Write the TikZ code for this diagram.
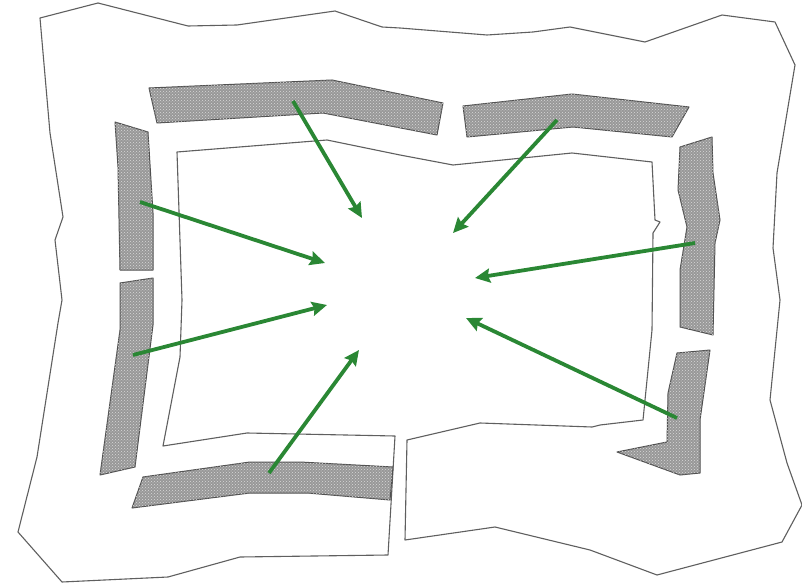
\documentclass[tikz,border=0pt]{standalone}
\usetikzlibrary{arrows.meta,patterns}
\definecolor{frameline}{RGB}{95,95,95}
\definecolor{barfill}{RGB}{152,152,152}
\definecolor{barline}{RGB}{80,80,80}
\definecolor{arrowgreen}{RGB}{42,135,52}
\tikzset{
  frame/.style={draw=frameline, line width=1.1pt, fill=white, line join=round},
  bar/.style={draw=barline, line width=1pt, fill=barfill, line join=round,
    postaction={pattern=crosshatch dots, pattern color=gray!30}},
  flow/.style={draw=arrowgreen, line width=3.8pt,
    -{Stealth[length=15pt,width=14pt,inset=2pt]}}
}
\begin{document}
\begin{tikzpicture}[x=1pt,y=-1pt]
\useasboundingbox (0,0) rectangle (802,585);
\fill[white] (0,0) rectangle (802,585);
% white frame (outer outline with inner opening and bottom slit)
\draw[frame]
  (405,540) -- (495,527) -- (590,550) -- (657,575) -- (782,542) -- (802,505)
  -- (787,463) -- (770,400) -- (780,300) -- (773,248) -- (777,173) -- (795,65)
  -- (775,22) -- (722,15) -- (645,42) -- (570,27) -- (533,32) -- (487,35)
  -- (400,28) -- (382,27) -- (335,11) -- (237,25) -- (188,26) -- (98,3)
  -- (40,18) -- (50,133) -- (63,217) -- (55,240) -- (62,300) -- (58,323)
  -- (37,457) -- (18,532) -- (62,582) -- (168,577) -- (240,557) -- (388,555)
  -- (395,436) -- (247,433) -- (163,446) -- (180,357) -- (182,300)
  -- (177,152) -- (327,140) -- (400,155) -- (453,165) -- (572,153)
  -- (652,162) -- (655,220) -- (660,222) -- (653,233) -- (652,330)
  -- (643,420) -- (600,425) -- (592,427) -- (480,423) -- (407,440) -- cycle;
% gray bars
\draw[bar] (149,88) -- (332,80) -- (443,103) -- (437,135) -- (323,113) -- (157,123) -- cycle;
\draw[bar] (463,106) -- (572,94) -- (689,107) -- (672,137) -- (573,127) -- (467,137) -- cycle;
\draw[bar] (680,147) -- (712,137) -- (713,173) -- (720,220) -- (715,243) -- (713,335)
  -- (680,327) -- (680,270) -- (687,227) -- (678,190) -- cycle;
\draw[bar] (677,353) -- (710,350) -- (700,420) -- (700,473) -- (680,475) -- (617,452)
  -- (667,442) -- (668,393) -- cycle;
\draw[bar] (115,122) -- (148,132) -- (153,213) -- (153,270) -- (120,270) -- (118,167) -- cycle;
\draw[bar] (120,283) -- (153,278) -- (153,325) -- (135,467) -- (100,475) -- (120,330) -- cycle;
\draw[bar] (143,477) -- (250,462) -- (300,462) -- (393,467) -- (390,500) -- (307,493)
  -- (250,493) -- (132,508) -- cycle;
% arrow end points
\coordinate (s1) at (293,101); \coordinate (t1) at (362,218);
\coordinate (s2) at (140,202); \coordinate (t2) at (325,263);
\coordinate (s3) at (557,120); \coordinate (t3) at (453,233);
\coordinate (s4) at (695,243); \coordinate (t4) at (475,278);
\coordinate (s5) at (133,355); \coordinate (t5) at (327,305);
\coordinate (s6) at (269,473); \coordinate (t6) at (359,350);
\coordinate (s7) at (677,418); \coordinate (t7) at (466,318);
\foreach \i in {1,...,7} \draw[flow] (s\i) -- (t\i);
\end{tikzpicture}
\end{document}
